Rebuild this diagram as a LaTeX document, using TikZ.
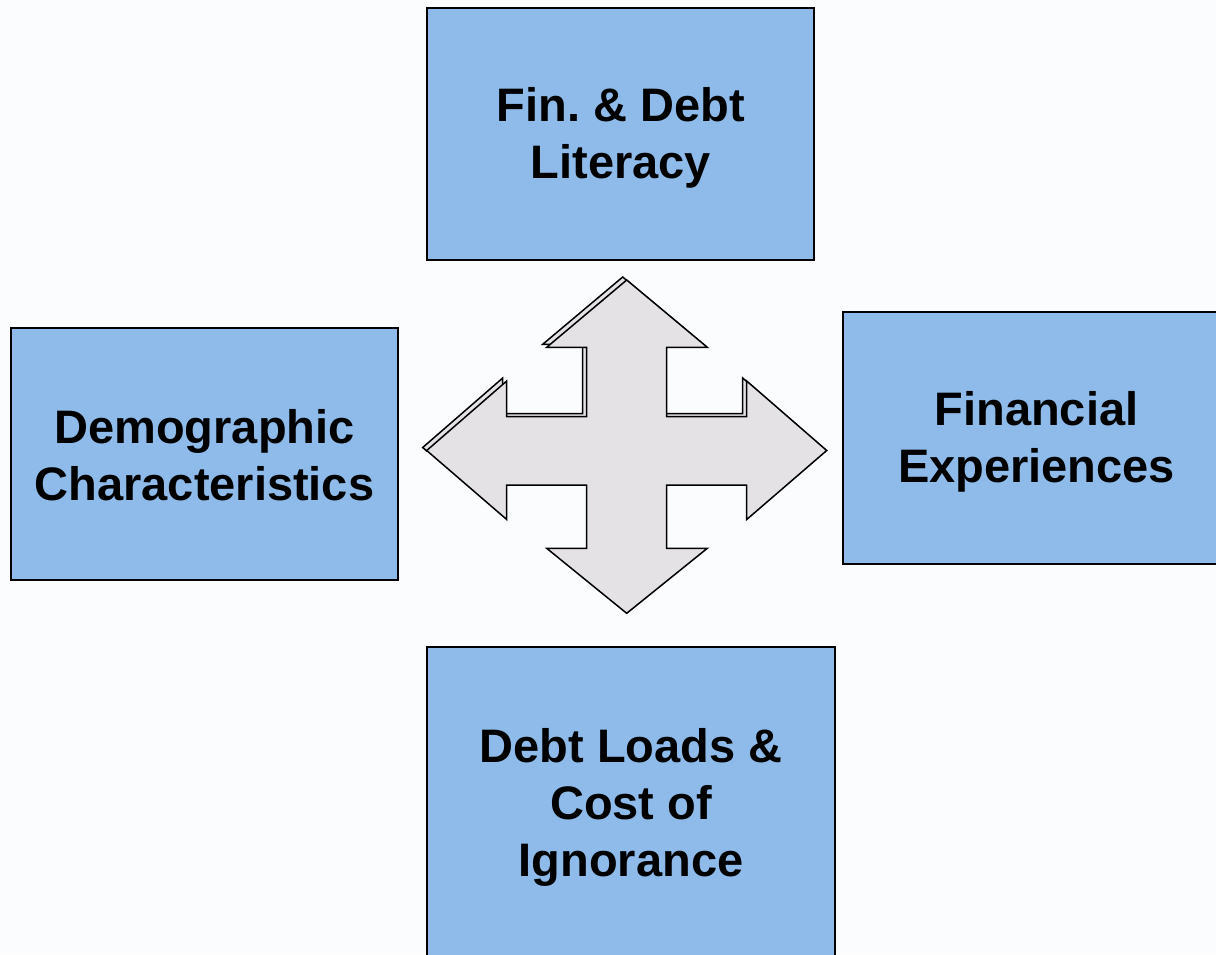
\documentclass[tikz,border=0pt]{standalone}
\usepackage{fontspec}
\setmainfont{Liberation Sans}
\frenchspacing
\definecolor{bgcol}{RGB}{251,252,254}
\definecolor{boxblue}{RGB}{143,187,235}
\definecolor{arrowgray}{RGB}{228,226,229}
\begin{document}
\begin{tikzpicture}[x=1pt,y=-1pt,
  box/.style={draw=black, line width=2pt, fill=boxblue, rectangle, inner sep=0pt},
  label/.style={align=center, inner sep=0pt, font=\fontsize{47}{57}\selectfont\bfseries, text=black},
  arrowshape/.style={draw=black, line width=1.5pt, fill=arrowgray, line join=miter}]
\fill[bgcol] (0,0) rectangle (1216,954);
\useasboundingbox (0,0) rectangle (1216,954);
\clip (0,0) rectangle (1216,954);
% boxes
\node[box, minimum width=387pt, minimum height=252pt] (lit) at (620.5,133.5) {};
\node[box, minimum width=387pt, minimum height=252pt] (demo) at (204.5,453.5) {};
\node[box, minimum width=387pt, minimum height=252pt] (exp) at (1036.5,438) {};
\node[box, minimum width=408pt, minimum height=312pt] (debt) at (631,803) {};
\node[label] (litT) at ([xshift=0.5pt,yshift=-4pt]lit.center) {Fin. \& Debt\\Literacy};
\node[label] (demoT) at ([yshift=-2pt]demo.center) {Demographic\\Characteristics};
\node[label] (expT) at ([yshift=-4pt]exp.center) {Financial\\Experiences};
\node[label] (debtT) at ([yshift=-4pt]debt.center) {Debt Loads \&\\Cost of\\Ignorance};
% shadow copy of arrow (upper part only)
\begin{scope}
\clip (400,260) rectangle (850,451);
\begin{scope}[shift={(-4,-3)}]
\draw[arrowshape] (626.7,280) -- (707.3,347.3) -- (666.7,347.3) -- (666.7,416.7) -- (746.7,416.7) -- (746.7,381) -- (826.7,450.5) -- (746.7,519.5) -- (746.7,485) -- (666.7,485) -- (666.7,548.3) -- (707.3,548.3) -- (626.7,613.3) -- (546.7,548.3) -- (586.7,548.3) -- (586.7,485) -- (506.7,485) -- (506.7,519.5) -- (426.7,450.5) -- (506.7,381) -- (506.7,416.7) -- (586.7,416.7) -- (586.7,347.3) -- (546.7,347.3) -- cycle;
\end{scope}
\end{scope}
% main arrow
\draw[arrowshape] (626.7,280) -- (707.3,347.3) -- (666.7,347.3) -- (666.7,416.7) -- (746.7,416.7) -- (746.7,381) -- (826.7,450.5) -- (746.7,519.5) -- (746.7,485) -- (666.7,485) -- (666.7,548.3) -- (707.3,548.3) -- (626.7,613.3) -- (546.7,548.3) -- (586.7,548.3) -- (586.7,485) -- (506.7,485) -- (506.7,519.5) -- (426.7,450.5) -- (506.7,381) -- (506.7,416.7) -- (586.7,416.7) -- (586.7,347.3) -- (546.7,347.3) -- cycle;
\end{tikzpicture}
\end{document}
